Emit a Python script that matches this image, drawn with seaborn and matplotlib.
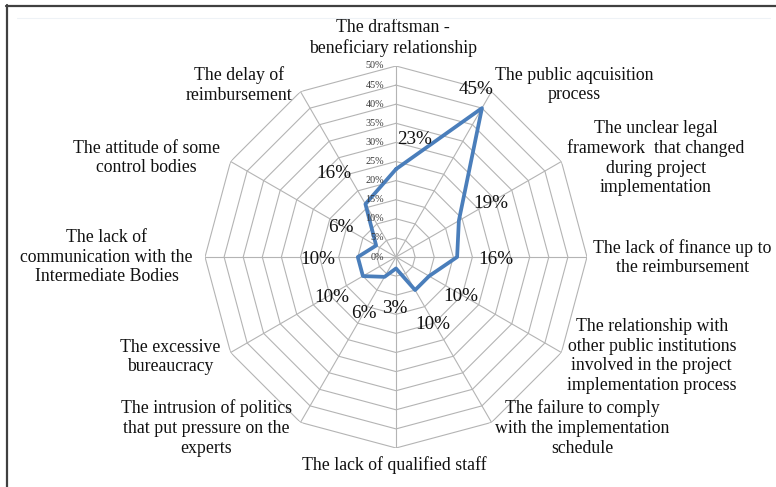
import numpy as np
import pandas as pd
import matplotlib
matplotlib.use("Agg")
import matplotlib.pyplot as plt
import seaborn as sns
from matplotlib.lines import Line2D

# ---------------- data ----------------
categories = [
    "The draftsman -\nbeneficiary relationship",
    "The public aqcuisition\nprocess",
    "The unclear legal\nframework  that changed\nduring project\nimplementation",
    "The lack of finance up to\nthe reimbursement",
    "The relationship with\nother public institutions\ninvolved in the project\nimplementation process",
    "The failure to comply\nwith the implementation\nschedule",
    "The lack of qualified staff",
    "The intrusion of politics\nthat put pressure on the\nexperts",
    "The excessive\nbureaucracy",
    "The lack of\ncommunication with the\nIntermediate Bodies",
    "The attitude of some\ncontrol bodies",
    "The delay of\nreimbursement",
]
values = [23, 45, 19, 16, 10, 10, 3, 6, 10, 10, 6, 16]
value_labels = ["23%", "45%", "19%", "16%", "10%", "10%", "3%", "6%", "10%", "10%", "6%", "16%"]
radial_ticks = [0, 5, 10, 15, 20, 25, 30, 35, 40, 45, 50]
radial_tick_labels = ["0%", "5%", "10%", "15%", "20%", "25%", "30%", "35%", "40%", "45%", "50%"]

# ---------------- styles / layout ----------------
PX = 0.72  # points per pixel at dpi 100
grid_c = "#b4b4b4"
line_c = "#4a7ebb"

# label offsets in pixels (dx right, dy down) from the outer ring vertex
cat_offsets = [(-3, -9), (3.5, -6.6), (5.6, -3.5), (6, 0.5), (5.6, 3.5), (3.5, 5.6),
               (-2, 8), (-8.5, 5.6), (-10.6, 4.5), (-12, 0), (-10.6, -3.5), (-8.5, -6.6)]
cat_align = [("center", "bottom"), ("left", "center"), ("left", "center"), ("left", "center"),
             ("left", "center"), ("left", "center"), ("center", "top"), ("right", "center"),
             ("right", "center"), ("right", "center"), ("right", "center"), ("right", "center")]
# value label offsets in pixels from the data vertex
val_offsets = [(19, -30), (-6, -19), (32, -17), (39, 2), (32, 20), (17.5, 34), (-1.5, 40),
               (-21, 37), (-31, 21), (-40, 3), (-35, -18), (-31.5, -31)]

sns.set_theme(style="white")
plt.rcParams["font.family"] = ["Liberation Serif", "DejaVu Serif"]

fig = plt.figure(figsize=(7.76, 4.87), dpi=100)
fig.patch.set_facecolor("white")

cx, cy, R = 396, 257, 191
W, H = 776, 487
ax = fig.add_axes([(cx - R) / W, (H - cy - R) / H, 2 * R / W, 2 * R / H], projection="polar")
ax.set_theta_zero_location("N")
ax.set_theta_direction(-1)

n = len(categories)
angles = np.arange(n) * 2 * np.pi / n
ring_theta = np.append(angles, angles[0])

# polygon grid rings and spokes
for t in radial_ticks[1:]:
    ax.plot(ring_theta, [t] * (n + 1), color=grid_c, lw=0.8, zorder=1)
for a in angles:
    ax.plot([a, a], [0, radial_ticks[-1]], color=grid_c, lw=0.8, zorder=1)

# data polygon
df = pd.DataFrame({"angle": ring_theta, "value": values + [values[0]]})
sns.lineplot(data=df, x="angle", y="value", sort=False, estimator=None,
             color=line_c, lw=2.7, ax=ax, zorder=3)

ax.set_ylim(0, radial_ticks[-1])
ax.grid(False)
ax.set_xticks([])
ax.set_yticks([])
ax.set_xlabel("")
ax.set_ylabel("")
ax.spines["polar"].set_visible(False)
ax.patch.set_alpha(0)

# radial tick labels
for t, lab in zip(radial_ticks, radial_tick_labels):
    ax.annotate(lab, xy=(0, t), xytext=(-8.5, 0), textcoords="offset points",
                ha="right", va="center", fontsize=7.3, color="#3a3a3a",
                annotation_clip=False, zorder=4)

# category labels
for a, lab, (dx, dy), (ha, va) in zip(angles, categories, cat_offsets, cat_align):
    ax.annotate(lab, xy=(a, radial_ticks[-1]), xytext=(dx * PX, -dy * PX),
                textcoords="offset points", ha=ha, va=va, multialignment="center",
                fontsize=12.8, linespacing=1.2, color="#111111", annotation_clip=False)

# value labels
for a, v, lab, (dx, dy) in zip(angles, values, value_labels, val_offsets):
    ax.annotate(lab, xy=(a, v), xytext=(dx * PX, -dy * PX), textcoords="offset points",
                ha="center", va="center", fontsize=13.8, color="#111111",
                annotation_clip=False, zorder=5)

# frame lines from the source image
fig.add_artist(Line2D([6 / W, 1], [1 - 5.5 / H, 1 - 5.5 / H], color="#404040", lw=1.6))
fig.add_artist(Line2D([6.5 / W, 6.5 / W], [0, 1 - 5 / H], color="#404040", lw=1.6))
fig.add_artist(Line2D([17 / W, 770 / W], [1 - 18 / H, 1 - 18 / H], color="#eef2f6", lw=0.8))

fig.savefig("out.png", dpi=100)
